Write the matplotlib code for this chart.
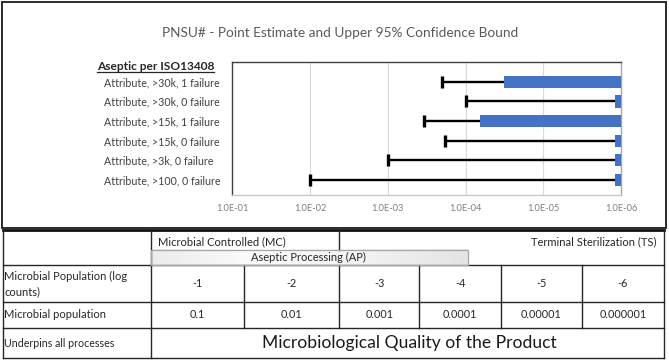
import matplotlib
matplotlib.use("Agg")
import matplotlib.pyplot as plt
import numpy as np
from matplotlib.ticker import FixedLocator, NullLocator
from matplotlib.patches import Rectangle
from matplotlib.colors import LinearSegmentedColormap

plt.rcParams['font.family'] = ['Lato', 'DejaVu Sans']

# ---------------- data ----------------
title = "PNSU# - Point Estimate and Upper 95% Confidence Bound"
group_header = "Aseptic per ISO13408"
categories = ["Attribute, >30k, 1 failure", "Attribute, >30k, 0 failure",
              "Attribute, >15k, 1 failure", "Attribute, >15k, 0 failure",
              "Attribute, >3k, 0 failure", "Attribute, >100, 0 failure"]
point_estimate = [3.2e-5, 1.18e-6, 6.5e-5, 1.18e-6, 1.18e-6, 1.18e-6]
upper_bound = [2.0e-4, 1.0e-4, 3.4e-4, 1.86e-4, 1.0e-3, 1.0e-2]
bar_base = 1e-6
xtick_values = [1e-1, 1e-2, 1e-3, 1e-4, 1e-5, 1e-6]
xtick_labels = ["1.0E-01", "1.0E-02", "1.0E-03", "1.0E-04", "1.0E-05", "1.0E-06"]

table_group_left = "Microbial Controlled (MC)"
table_group_right = "Terminal Sterilization (TS)"
table_group_mid = "Aseptic Processing (AP)"
row_labels = ["Microbial Population (log\ncounts)", "Microbial population", "Underpins all processes"]
log_counts = ["-1", "-2", "-3", "-4", "-5", "-6"]
populations = ["0.1", "0.01", "0.001", "0.0001", "0.00001", "0.000001"]
footer_text = "Microbiological Quality of the Product"

# ---------------- figure ----------------
W, H = 669, 364
fig = plt.figure(figsize=(W / 100, H / 100), dpi=100)
fig.patch.set_facecolor("white")

ov = fig.add_axes([0, 0, 1, 1])
ov.set_xlim(0, W)
ov.set_ylim(H, 0)
ov.axis("off")

# chart
L, R, T, B = 232.3, 621.0, 61.7, 195.0
ax = fig.add_axes([L / W, 1 - B / H, (R - L) / W, (B - T) / H])
ax.set_xscale("log")
ax.set_xlim(1e-1, 1e-6)
n = len(categories)
y = np.arange(n)[::-1]
ax.set_ylim(-0.763, (n - 1) + 1.017)

pe = np.array(point_estimate)
ub = np.array(upper_bound)
ax.barh(y, pe - bar_base, left=bar_base, height=0.626, color="#4472C4", zorder=3)
ax.hlines(y, ub, pe, color="black", lw=1.7, zorder=2)
ax.plot(ub, y, linestyle="none", marker="|", markersize=8.5, mew=2.4, color="black", zorder=4)

ax.xaxis.set_major_locator(FixedLocator(xtick_values))
ax.xaxis.set_minor_locator(NullLocator())
ax.set_xticklabels(xtick_labels)
ax.tick_params(axis="x", length=0, pad=6.3, labelsize=6.7, labelcolor="#7f7f7f")
ax.grid(axis="x", color="#d9d9d9", lw=0.8, zorder=0)
ax.set_axisbelow(True)

ax.set_yticks(y)
ax.set_yticklabels(categories)
pad_pt = (L - 104) * 0.72
ax.tick_params(axis="y", length=0, pad=pad_pt, labelsize=7.7, labelcolor="#404040")
for lab in ax.get_yticklabels():
    lab.set_horizontalalignment("left")

ax.spines["left"].set_color("#404040")
ax.spines["top"].set_color("#404040")
ax.spines["right"].set_color("#a6a6a6")
ax.spines["bottom"].set_color("#c8c8c8")
for s in ax.spines.values():
    s.set_linewidth(1.0)

# title + group header
ov.text(340.5, 33, title, ha="center", va="center", fontsize=9.8, color="#595959")
hdr = ov.text(96.7, 66.3, group_header, ha="left", va="center", fontsize=8.6,
              fontweight="bold", color="#262626")
fig.canvas.draw()
bb = hdr.get_window_extent(fig.canvas.get_renderer())
ov.plot([bb.x0, bb.x1], [72.4, 72.4], color="#262626", lw=0.9)

# outer chart border
ov.add_patch(Rectangle((2, 2), 663.7, 226, fill=False, ec="#1a1a1a", lw=1.3))

# ---------------- table ----------------
tl, tr = 2.7, 664.3
ty = [230, 265, 301.7, 328.3, 357.7]
col_x = [150.7, 243.7, 339, 419.3, 500.7, 581.7, 664.3]
lc = "#262626"
ov.plot([tl, tr], [ty[0], ty[0]], color="#111111", lw=2.0)
for yy in ty[1:]:
    ov.plot([tl, tr], [yy, yy], color=lc, lw=1.0)
for xx in [tl, tr, col_x[0]]:
    ov.plot([xx, xx], [ty[0], ty[-1]], color=lc, lw=1.0)
for xx in col_x[1:-1]:
    ov.plot([xx, xx], [ty[1], ty[3]], color=lc, lw=1.0)
ov.plot([339, 339], [ty[0], 250], color=lc, lw=1.0)

# AP box with light gradient
grad = np.linspace(0, 1, 256).reshape(1, -1)
cmap = LinearSegmentedColormap.from_list("g", ["#ececec", "#fbfbfb", "#f2f2f2", "#e4e4e4"])
ov.imshow(grad, extent=[150.7, 467.7, 264.5, 250], aspect="auto", cmap=cmap, zorder=1)
ov.set_xlim(0, W)
ov.set_ylim(H, 0)
ov.add_patch(Rectangle((150.7, 250), 317, 14.5, fill=False, ec="#a6a6a6", lw=0.9, zorder=2))

fs = 8.0
tc = "#262626"
ov.text(158.3, 242.2, table_group_left, ha="left", va="center", fontsize=fs, color=tc)
ov.text(656.7, 242.2, table_group_right, ha="right", va="center", fontsize=fs, color=tc)
ov.text(308.5, 257.0, table_group_mid, ha="center", va="center", fontsize=fs, color=tc, zorder=3)

ov.text(4.5, 284, row_labels[0], ha="left", va="center", fontsize=fs, color=tc, linespacing=1.4)
ov.text(4.5, 315, row_labels[1], ha="left", va="center", fontsize=fs, color=tc)
ov.text(4.5, 343.3, row_labels[2], ha="left", va="center", fontsize=7.7, color=tc)

for i in range(6):
    cx = (col_x[i] + col_x[i + 1]) / 2
    ov.text(cx, 283.5, log_counts[i], ha="center", va="center", fontsize=7.8, color=tc)
    ov.text(cx, 315, populations[i], ha="center", va="center", fontsize=7.8, color=tc)

ov.text(409, 343, footer_text, ha="center", va="center", fontsize=12.6, color="#1a1a1a")

fig.savefig("out.png", dpi=100, facecolor="white")
